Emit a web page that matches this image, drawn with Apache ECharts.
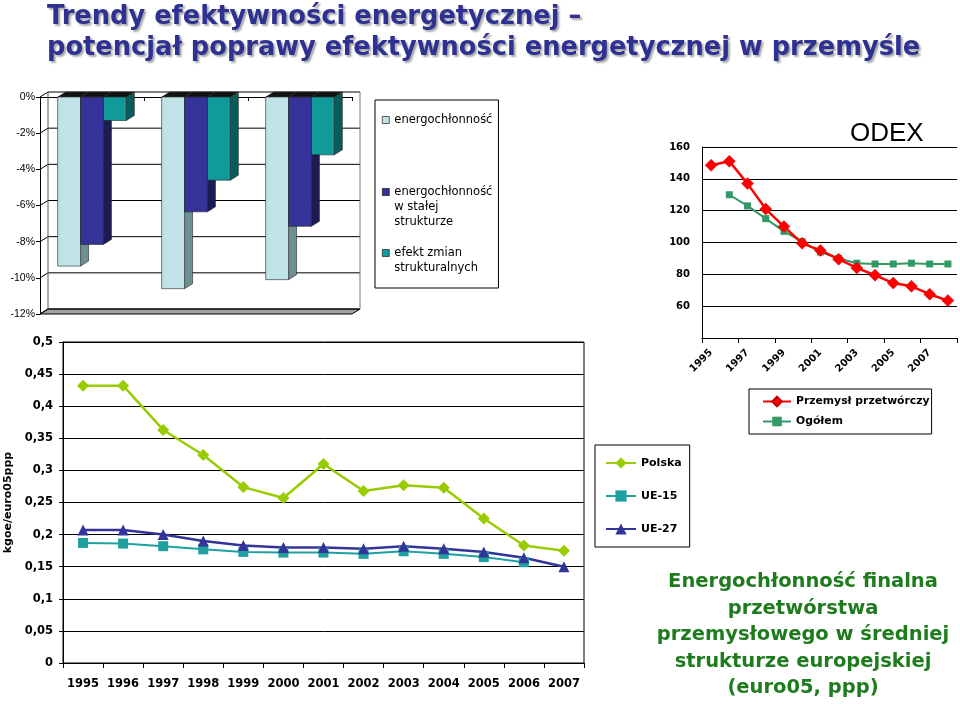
<!DOCTYPE html>
<html><head><meta charset="utf-8">
<script src="https://cdn.jsdelivr.net/npm/echarts@6/dist/echarts.min.js"></script>
<style>html,body{margin:0;padding:0;background:#fff}#c{width:960px;height:704px}</style>
</head><body><div id="c"></div>
<script>
// ---------- data ----------
const barCategories = ['', '', ''];
const barTicks = [0, -2, -4, -6, -8, -10, -12];
const barEnergochlonnosc = [-9.35, -10.6, -10.1];
const barStalaStruktura = [-8.15, -6.35, -7.15];
const barEfektStrukturalny = [-1.3, -4.6, -3.2];

const odexYears = ['1995','1996','1997','1998','1999','2000','2001','2002','2003','2004','2005','2006','2007','2008'];
const odexPrzemysl = [148.5, 151, 137, 121, 110, 99.5, 95, 89.5, 84, 79.5, 74.5, 72.5, 67.5, 63.5];
const odexOgolem = [null, 130, 123, 115, 107, 100.5, 94, 90, 87, 86.5, 86.5, 87, 86.5, 86.5];

const years = ['1995','1996','1997','1998','1999','2000','2001','2002','2003','2004','2005','2006','2007'];
const polska = [0.432, 0.432, 0.363, 0.324, 0.274, 0.257, 0.310, 0.268, 0.277, 0.273, 0.225, 0.183, 0.175];
const ue15 = [0.187, 0.186, 0.182, 0.177, 0.173, 0.172, 0.172, 0.170, 0.174, 0.170, 0.165, 0.157, null];
const ue27 = [0.207, 0.207, 0.200, 0.190, 0.183, 0.180, 0.180, 0.178, 0.182, 0.178, 0.173, 0.164, 0.150];

// legend label lines (leading blank lines keep the icon level with the first line)
const legendLabels = {
  'energochłonność': 'energochłonność',
  'energochłonność w stałej strukturze': '\n\nenergochłonność\nw stałej\nstrukturze',
  'efekt zmian strukturalnych': '\nefekt zmian\nstrukturalnych'
};

// ---------- styling ----------
const DX = 8, DY = 5, GROUP_FRAC = 0.66;
const BAR_STYLES = [
  {front: '#BFE3E7', side: '#6E8E90'},
  {front: '#333399', side: '#1C1C52'},
  {front: '#109A9A', side: '#0A5B5B'}
];
const BOLD = {fontFamily: 'DejaVu Sans', fontWeight: 'bold', color: '#000'};

function barRenderer(idx) {
  const st = BAR_STYLES[idx];
  return function (params, api) {
    const cat = api.value(0), val = api.value(1);
    const p0 = api.coord([cat, 0]);
    const p1 = api.coord([cat, val]);
    const catW = api.size([1, 0])[0];
    const bw = catW * GROUP_FRAC / 3;
    const x = p0[0] - catW * GROUP_FRAC / 2 + idx * bw;
    const y0 = p0[1], y1 = p1[1];
    return {type: 'group', children: [
      {type: 'polygon', shape: {points: [[x + bw, y0], [x + bw + DX, y0 - DY], [x + bw + DX, y1 - DY], [x + bw, y1]]},
        style: {fill: st.side, stroke: '#222', lineWidth: 0.6}},
      {type: 'polygon', shape: {points: [[x, y0], [x + DX, y0 - DY], [x + bw + DX, y0 - DY], [x + bw, y0]]},
        style: {fill: '#111', stroke: '#333', lineWidth: 0.6}},
      {type: 'rect', shape: {x: x, y: y0, width: bw, height: y1 - y0},
        style: {fill: st.front, stroke: '#222', lineWidth: 0.6}}
    ]};
  };
}

function floorRenderer(params, api) {
  const cs = params.coordSys;
  const children = [];
  const yTop = api.coord([0, barTicks[0]])[1];
  const yBot = api.coord([0, barTicks[barTicks.length - 1]])[1];
  children.push({type: 'polygon', shape: {points: [[cs.x, yBot], [cs.x + cs.width, yBot], [cs.x + cs.width + DX, yBot - DY], [cs.x + DX, yBot - DY]]},
    style: {fill: '#A0A0A0', stroke: '#000', lineWidth: 1}});
  barTicks.forEach(function (t) {
    const y = api.coord([0, t])[1];
    children.push({type: 'polyline', shape: {points: [[cs.x, y], [cs.x + DX, y - DY], [cs.x + cs.width + DX, y - DY]]},
      style: {stroke: '#000', lineWidth: 1, fill: null}});
  });
  children.push({type: 'line', shape: {x1: cs.x + DX, y1: yTop - DY, x2: cs.x + DX, y2: yBot - DY}, style: {stroke: '#555', lineWidth: 1}});
  children.push({type: 'line', shape: {x1: cs.x + cs.width + DX, y1: yTop - DY, x2: cs.x + cs.width + DX, y2: yBot - DY}, style: {stroke: '#777', lineWidth: 1}});
  return {type: 'group', children: children};
}

const chart = echarts.init(document.getElementById('c'), null, {renderer: 'canvas'});

const barLegendBase = {
  orient: 'vertical', icon: 'rect', itemWidth: 7, itemHeight: 7, itemGap: 0, selectedMode: false,
  itemStyle: {borderColor: '#000', borderWidth: 0.6},
  formatter: function (n) { return legendLabels[n]; },
  textStyle: {fontFamily: 'DejaVu Sans', fontSize: 11.5, color: '#000', lineHeight: 15}
};

const option = {
  backgroundColor: '#fff',
  animation: false,
  title: [
    {text: 'Trendy efektywności energetycznej –\npotencjał poprawy efektywności energetycznej w przemyśle',
      left: 47, top: 1.5, padding: 0,
      textStyle: {fontFamily: 'DejaVu Sans', fontWeight: 'bold', fontSize: 25.7, color: '#2E3192', lineHeight: 31,
        textShadowColor: 'rgba(0,0,0,0.35)', textShadowOffsetX: 2, textShadowOffsetY: 2, textShadowBlur: 2}},
    {text: 'ODEX', left: 850, top: 121, padding: 0,
      textStyle: {fontFamily: 'Liberation Sans', fontWeight: 'normal', fontSize: 26, color: '#000'}},
    {text: 'Energochłonność finalna\nprzetwórstwa\nprzemysłowego w średniej\nstrukturze europejskiej\n(euro05, ppp)',
      left: 803, top: 569, padding: 0, textAlign: 'center',
      textStyle: {fontFamily: 'DejaVu Sans', fontWeight: 'bold', fontSize: 19.5, color: '#1E7B1E', lineHeight: 26.5}}
  ],
  grid: [
    {left: 40, top: 97, width: 312, height: 217, outerBoundsMode: 'none'},
    {left: 702, top: 147, width: 255, height: 191, outerBoundsMode: 'none'},
    {left: 63, top: 342, width: 521, height: 321, outerBoundsMode: 'none', show: true, borderColor: '#000', borderWidth: 1, backgroundColor: 'transparent'}
  ],
  xAxis: [
    {gridIndex: 0, type: 'category', data: barCategories,
      axisLine: {show: true, lineStyle: {color: '#000'}}, axisTick: {show: true, length: 4, lineStyle: {color: '#000'}},
      axisLabel: {show: false}, splitLine: {show: false}},
    {gridIndex: 1, type: 'category', data: odexYears, boundaryGap: true,
      axisLine: {show: true, lineStyle: {color: '#000'}}, axisTick: {show: true, length: 5, lineStyle: {color: '#000'}},
      axisLabel: Object.assign({interval: 1, rotate: 45, fontSize: 10, margin: 13}, BOLD), splitLine: {show: false}},
    {gridIndex: 2, type: 'category', data: years, boundaryGap: true,
      axisLine: {show: true, lineStyle: {color: '#000'}}, axisTick: {show: true, length: 5, lineStyle: {color: '#000'}},
      axisLabel: Object.assign({interval: 0, fontSize: 11.5, margin: 15}, BOLD), splitLine: {show: false}}
  ],
  yAxis: [
    {gridIndex: 0, type: 'value', min: -12, max: 0, interval: 2,
      axisLine: {show: true, lineStyle: {color: '#000'}}, axisTick: {show: true, length: 4, lineStyle: {color: '#000'}},
      splitLine: {show: false},
      axisLabel: {formatter: function (v) { return v + '%'; }, fontFamily: 'Liberation Sans', fontWeight: 'normal', fontSize: 10.5, color: '#000', margin: 5}},
    {gridIndex: 1, type: 'value', min: 40, max: 160, interval: 20,
      axisLine: {show: true, lineStyle: {color: '#000'}}, axisTick: {show: false},
      splitLine: {show: true, lineStyle: {color: '#000', width: 1}},
      axisLabel: Object.assign({formatter: function (v) { return v === 40 ? '' : String(v); }, fontSize: 10, margin: 12}, BOLD)},
    {gridIndex: 2, type: 'value', min: 0, max: 0.5, interval: 0.05,
      name: 'kgoe/euro05ppp', nameLocation: 'middle', nameRotate: 90, nameGap: 45,
      nameTextStyle: {fontFamily: 'DejaVu Sans', fontWeight: 'bold', fontSize: 11, color: '#000'},
      axisLine: {show: true, lineStyle: {color: '#000'}}, axisTick: {show: true, length: 4, lineStyle: {color: '#000'}},
      splitLine: {show: true, lineStyle: {color: '#000', width: 1}},
      axisLabel: Object.assign({formatter: function (v) { return String(+v.toFixed(2)).replace('.', ','); }, fontSize: 11.5, margin: 10}, BOLD)}
  ],
  legend: [
    Object.assign({data: ['energochłonność'], left: 375, top: 100, padding: [12.5, 6, 160.5, 7],
      borderColor: '#000', borderWidth: 1}, barLegendBase),
    Object.assign({data: ['energochłonność w stałej strukturze'], left: 382, top: 154.5, padding: 0}, barLegendBase),
    Object.assign({data: ['efekt zmian strukturalnych'], left: 382, top: 230.5, padding: 0}, barLegendBase),
    {data: ['Przemysł przetwórczy', 'Ogółem'], left: 749, top: 389, orient: 'vertical', padding: [6, 2, 6, 13],
      borderColor: '#000', borderWidth: 1, itemGap: 7, itemWidth: 28, itemHeight: 12, selectedMode: false,
      textStyle: {fontFamily: 'DejaVu Sans', fontWeight: 'bold', fontSize: 10.8, color: '#000', lineHeight: 13}},
    {data: ['Polska', 'UE-15', 'UE-27'], left: 595, top: 445, orient: 'vertical', padding: [11, 8, 11, 10],
      borderColor: '#000', borderWidth: 1, itemGap: 19, itemWidth: 30, itemHeight: 14, selectedMode: false,
      textStyle: {fontFamily: 'DejaVu Sans', fontWeight: 'bold', fontSize: 11, color: '#000', lineHeight: 14}}
  ],
  series: [
    {type: 'custom', name: 'floor', xAxisIndex: 0, yAxisIndex: 0, z: 1, silent: true,
      renderItem: floorRenderer, data: [[0, barTicks[barTicks.length - 1]]], encode: {x: 0, y: 1}},
    {type: 'custom', name: 'energochłonność', xAxisIndex: 0, yAxisIndex: 0, z: 2,
      itemStyle: {color: BAR_STYLES[0].front}, renderItem: barRenderer(0),
      data: barEnergochlonnosc.map(function (v, i) { return [i, v]; }), encode: {x: 0, y: 1}},
    {type: 'custom', name: 'energochłonność w stałej strukturze', xAxisIndex: 0, yAxisIndex: 0, z: 2,
      itemStyle: {color: BAR_STYLES[1].front}, renderItem: barRenderer(1),
      data: barStalaStruktura.map(function (v, i) { return [i, v]; }), encode: {x: 0, y: 1}},
    {type: 'custom', name: 'efekt zmian strukturalnych', xAxisIndex: 0, yAxisIndex: 0, z: 2,
      itemStyle: {color: BAR_STYLES[2].front}, renderItem: barRenderer(2),
      data: barEfektStrukturalny.map(function (v, i) { return [i, v]; }), encode: {x: 0, y: 1}},

    {type: 'line', name: 'Ogółem', xAxisIndex: 1, yAxisIndex: 1, data: odexOgolem,
      symbol: 'rect', symbolSize: 7, showAllSymbol: true, connectNulls: false,
      lineStyle: {color: '#339966', width: 2}, itemStyle: {color: '#339966'}},
    {type: 'line', name: 'Przemysł przetwórczy', xAxisIndex: 1, yAxisIndex: 1, data: odexPrzemysl,
      symbol: 'diamond', symbolSize: 12, showAllSymbol: true,
      lineStyle: {color: '#FF0000', width: 2.5}, itemStyle: {color: '#FF0000', borderColor: '#CC0000', borderWidth: 0.5}},

    {type: 'line', name: 'Polska', xAxisIndex: 2, yAxisIndex: 2, data: polska,
      symbol: 'diamond', symbolSize: 12, showAllSymbol: true,
      lineStyle: {color: '#99CC00', width: 2.5}, itemStyle: {color: '#99CC00'}},
    {type: 'line', name: 'UE-15', xAxisIndex: 2, yAxisIndex: 2, data: ue15,
      symbol: 'rect', symbolSize: 10, showAllSymbol: true,
      lineStyle: {color: '#1FA0A0', width: 2}, itemStyle: {color: '#1FA0A0'}},
    {type: 'line', name: 'UE-27', xAxisIndex: 2, yAxisIndex: 2, data: ue27,
      symbol: 'triangle', symbolSize: 11, showAllSymbol: true,
      lineStyle: {color: '#333399', width: 2.5}, itemStyle: {color: '#333399'}}
  ]
};
chart.setOption(option);
</script></body></html>
